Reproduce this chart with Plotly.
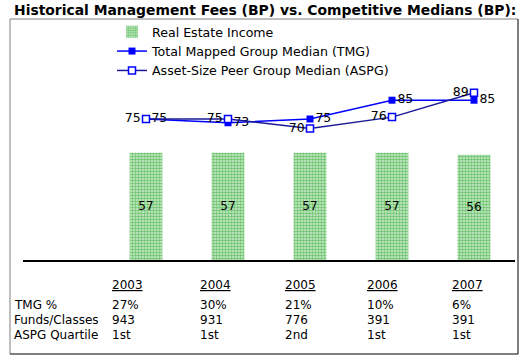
import plotly.graph_objects as go

years = ["2003", "2004", "2005", "2006", "2007"]
real_estate_income = [57, 57, 57, 57, 56]
tmg_median = [75, 73, 75, 85, 85]
aspg_median = [75, 75, 70, 76, 89]

row_labels = ["TMG %", "Funds/Classes", "ASPG Quartile"]
tmg_pct = ["27%", "30%", "21%", "10%", "6%"]
funds_classes = ["943", "931", "776", "391", "391"]
aspg_quartile = ["1st", "1st", "2nd", "1st", "1st"]

W, H = 527, 362
ML, MR, MT, MB = 23, 12, 20, 102
PW = W - ML - MR
PH = H - MT - MB
FONT = "DejaVu Sans"


def px_x(p):
    return (p - ML) / PW


def px_y(p):
    return (H - MB - p) / PH


fig = go.Figure()
fig.add_trace(go.Bar(
    x=years, y=real_estate_income, name="Real Estate Income",
    width=0.4,
    marker=dict(color="#d4ead4", line=dict(width=0),
                pattern=dict(shape=".", fgcolor="#00a000", bgcolor="#d4ead4",
                             size=3, solidity=0.55)),
    text=[str(v) for v in real_estate_income], textposition="inside",
    insidetextanchor="middle", constraintext="none",
    textfont=dict(family=FONT, size=12, color="black"),
))
fig.add_trace(go.Scatter(
    x=years, y=tmg_median, name="Total Mapped Group Median (TMG)",
    mode="lines+markers+text",
    line=dict(color="#0000ff", width=1.5),
    marker=dict(symbol="square", size=7, color="#0000ff"),
    text=[str(v) for v in tmg_median], textposition="middle right",
    textfont=dict(family=FONT, size=12.5, color="black"),
))
fig.add_trace(go.Scatter(
    x=years, y=aspg_median, name="Asset-Size Peer Group Median (ASPG)",
    mode="lines+markers+text",
    line=dict(color="#1a1a99", width=1.5),
    marker=dict(symbol="square", size=7, color="white",
                line=dict(color="#0000ff", width=1.5)),
    text=[str(v) for v in aspg_median], textposition="middle left",
    textfont=dict(family=FONT, size=12.5, color="black"),
))

annotations = []
col_x = [110, 198, 283, 365, 450]
year_y = 285
row_y = [305, 320, 335]
for i, yr in enumerate(years):
    annotations.append(dict(
        x=px_x(col_x[i]), y=px_y(year_y), xref="paper", yref="paper",
        text=yr, showarrow=False, xanchor="left", yanchor="middle",
        font=dict(family=FONT, size=12, color="black", lineposition="under"),
    ))
for r, (label, vals) in enumerate(zip(row_labels, [tmg_pct, funds_classes, aspg_quartile])):
    annotations.append(dict(
        x=px_x(12), y=px_y(row_y[r]), xref="paper", yref="paper",
        text=label, showarrow=False, xanchor="left", yanchor="middle",
        font=dict(family=FONT, size=12, color="black"),
    ))
    for i, v in enumerate(vals):
        annotations.append(dict(
            x=px_x(col_x[i]), y=px_y(row_y[r]), xref="paper", yref="paper",
            text=v, showarrow=False, xanchor="left", yanchor="middle",
            font=dict(family=FONT, size=12, color="black"),
        ))

fx0, fx1 = px_x(10), px_x(518)
fy0, fy1 = px_y(354), px_y(19)
shapes = [
    dict(type="line", xref="paper", yref="paper", x0=fx0, x1=fx1, y0=fy1, y1=fy1,
         line=dict(color="#808080", width=1)),
    dict(type="line", xref="paper", yref="paper", x0=fx0, x1=fx0, y0=fy0, y1=fy1,
         line=dict(color="#808080", width=1)),
    dict(type="line", xref="paper", yref="paper", x0=fx1, x1=fx1, y0=fy0, y1=fy1,
         line=dict(color="black", width=1)),
    dict(type="line", xref="paper", yref="paper", x0=fx0, x1=fx1, y0=fy0, y1=fy0,
         line=dict(color="black", width=1)),
]

fig.update_layout(
    width=W, height=H,
    margin=dict(l=ML, r=MR, t=MT, b=MB),
    paper_bgcolor="white", plot_bgcolor="white",
    font=dict(family=FONT, size=12, color="black"),
    title=dict(text="<b>Historical Management Fees (BP) vs. Competitive Medians (BP):</b>",
               x=14 / W, xanchor="left", xref="container",
               y=1 - 10 / H, yanchor="middle", yref="container",
               font=dict(family=FONT, size=13.9, color="black")),
    showlegend=True,
    legend=dict(x=px_x(112), y=px_y(17), xanchor="left", yanchor="top",
                xref="paper", yref="paper", bgcolor="rgba(0,0,0,0)",
                font=dict(family=FONT, size=12.6, color="black"),
                traceorder="normal", itemwidth=30, tracegroupgap=0),
    xaxis=dict(range=[-1.5, 4.5], showticklabels=False, ticks="",
               showline=True, linecolor="black", linewidth=1.5,
               showgrid=False, zeroline=False),
    yaxis=dict(range=[0, PH / 1.88], visible=False, showgrid=False, zeroline=False),
    bargap=0.6,
    annotations=annotations,
    shapes=shapes,
)

fig.write_html("out.html", config={"displayModeBar": False},
               post_script="document.body.style.margin='0';")
